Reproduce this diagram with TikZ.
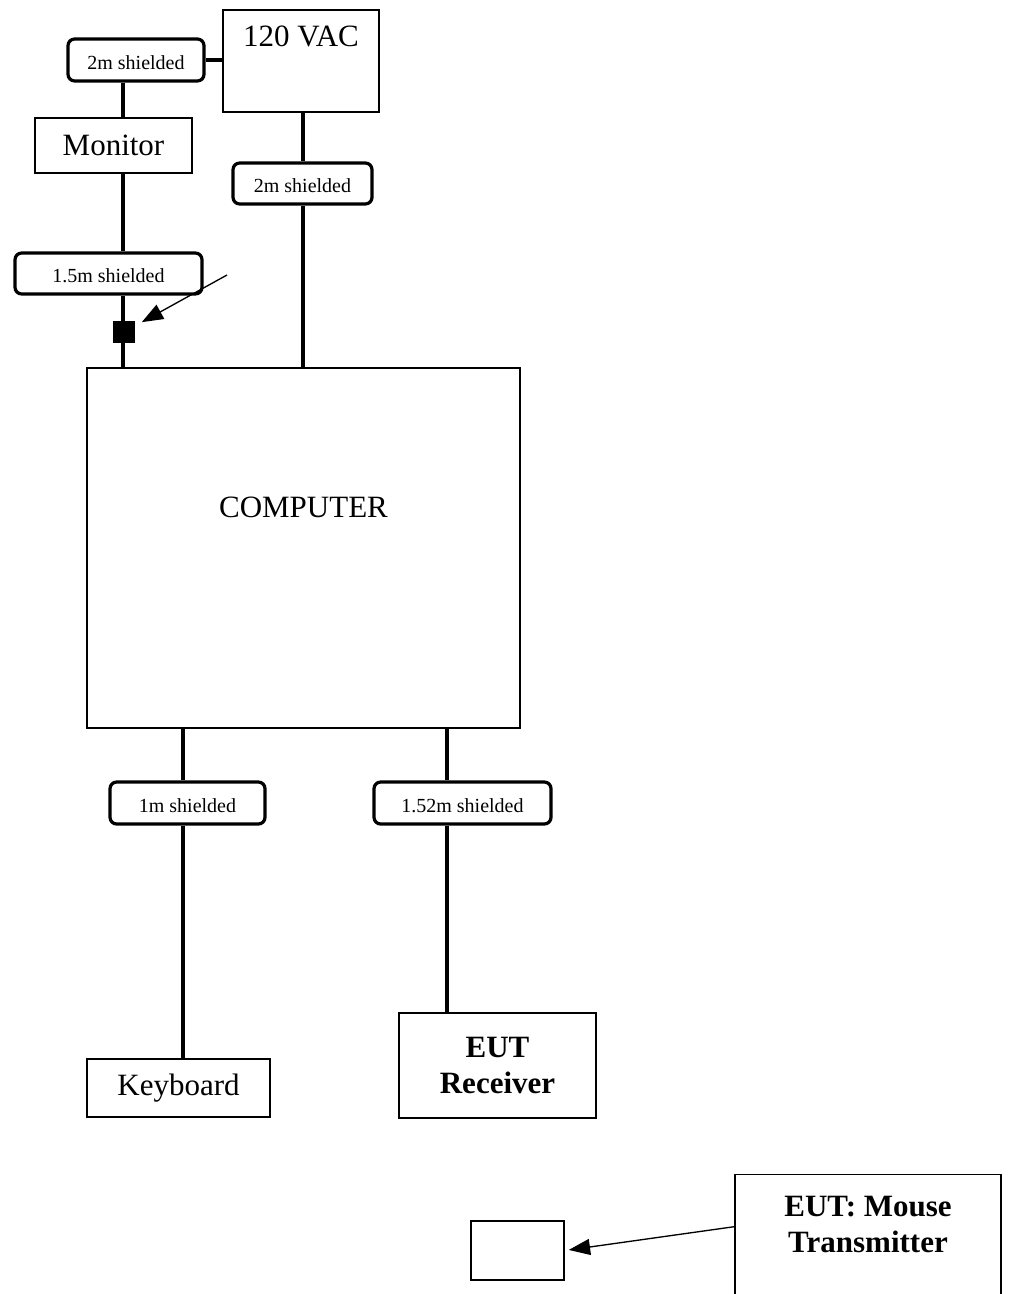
\documentclass[tikz,border=0pt]{standalone}
\usepackage{fontspec}
\setmainfont{Liberation Serif}
\usepackage{tikz}
\usetikzlibrary{arrows.meta}
\usetikzlibrary{positioning}
\newlength{\pxu}
\setlength{\pxu}{0.75pt}
\tikzset{
  unit/.style={draw, line width=#1, inner sep=0pt, align=center}, % devices
  unit/.default=1.7pt,
  cablebox/.style={draw, rounded corners=5pt, line width=2.4pt, inner sep=0pt,
    text height=14pt, text depth=0pt,
    font=\fontsize{15}{18}\selectfont}, % cable labels
  boldtext/.style={font=\fontsize{23.25}{27}\selectfont\bfseries},
  wire/.style={line width=2.4pt}, % cables
  pointer/.style={->, line width=1pt} % arrows
}

\begin{document}
\begin{tikzpicture}[
x=0.75pt, y=-0.75pt,
font=\fontsize{23.25}{27}\selectfont,
>={Triangle[length=16pt,width=12pt]} % arrow tips
]
\useasboundingbox (0,0) rectangle (1008,1294);

%cable columns
\coordinate (mx) at (123,0);
\coordinate (vx) at (303,0);
\coordinate (kx) at (183,0);
\coordinate (rx) at (447,0);

%devices
\node[unit, minimum width=156\pxu, minimum height=102\pxu,
  label={[yshift=25\pxu]center:120 VAC}] (vac) at (301,61) {};
\node[unit, minimum width=157\pxu, minimum height=55\pxu] (mon) at (113.5,145.5) {Monitor};
\node[unit=2pt, minimum width=433\pxu, minimum height=360\pxu,
  label={[yshift=41\pxu]center:COMPUTER}] (pc) at (303.5,548) {};
\node[unit=2pt, minimum width=183\pxu, minimum height=58\pxu] (kbd) at (178.5,1088) {Keyboard};
\node[unit=1.25pt, boldtext, minimum width=197\pxu, minimum height=105\pxu] (rcv) at (497.5,1065.5) {EUT\\Receiver};
\node[unit=1.2pt, minimum width=93\pxu, minimum height=59\pxu] (mb) at (517.5,1250.5) {};
\node[unit=1pt, minimum width=266\pxu, minimum height=146\pxu, anchor=north,
  label={[boldtext, align=center, yshift=23\pxu]center:{EUT: Mouse\\Transmitter}}] (tx) at (868,1174) {};

%cable labels
\node[cablebox, minimum width=136\pxu, minimum height=42\pxu] (cab1) at (136,60) {2m shielded};
\node[cablebox, minimum width=139\pxu, minimum height=41\pxu] (cab3) at (302.5,183.5) {2m shielded};
\node[cablebox, minimum width=187\pxu, minimum height=41\pxu] (cab2) at (108.5,273.5) {1.5m shielded};
\node[cablebox, minimum width=155\pxu, minimum height=42\pxu] (cab4) at (187.5,803) {1m shielded};
\node[cablebox, minimum width=177\pxu, minimum height=42\pxu] (cab5) at (462.5,803) {1.52m shielded};

%cables
\draw[wire] (cab1.east) -- (cab1.east -| vac.west);
\draw[wire] (mx |- cab1.south) -- (mx |- mon.north);
\draw[wire] (mx |- mon.south) -- (mx |- cab2.north);
\draw[wire] (mx |- cab2.south) -- (mx |- pc.north);
\draw[wire] (vx |- vac.south) -- (vx |- cab3.north);
\draw[wire] (vx |- cab3.south) -- (vx |- pc.north);
\draw[wire] (kx |- pc.south) -- (kx |- cab4.north);
\draw[wire] (kx |- cab4.south) -- (kx |- kbd.north);
\draw[wire] (rx |- pc.south) -- (rx |- cab5.north);
\draw[wire] (rx |- cab5.south) -- (rx |- rcv.north);

%ferrite
\node[draw, fill, minimum size=21\pxu, inner sep=0pt] (fer) at (124,332) {};
\coordinate (ptr) at (227,275);

%arrows
\draw[pointer, shorten >=6pt] (ptr) -- (fer);
\draw[pointer, shorten >=3pt] ([yshift=21\pxu]tx.west) -- (mb.east);

\end{tikzpicture}
\end{document}
